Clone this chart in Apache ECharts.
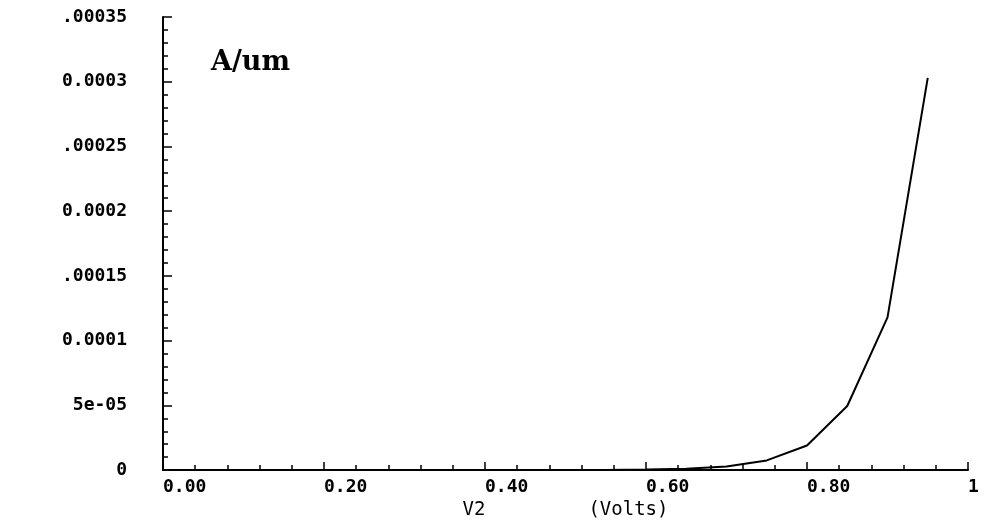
<!DOCTYPE html>
<html>
<head>
<meta charset="utf-8">
<script src="https://cdn.jsdelivr.net/npm/echarts@6/dist/echarts.min.js"></script>
<style>
  html, body { margin: 0; padding: 0; background: #fff; }
  #main { width: 990px; height: 525px; }
</style>
</head>
<body>
<div id="main"></div>
<script>
var voltage = [0.00, 0.05, 0.10, 0.15, 0.20, 0.25, 0.30, 0.35, 0.40, 0.45, 0.50, 0.55, 0.60, 0.65, 0.70, 0.75, 0.80, 0.85, 0.90, 0.95];
var current = [0, 0, 0, 0, 0, 0, 0, 0, 0, 0, 0, 0, 0.0000004, 0.000001, 0.0000028, 0.0000075, 0.0000190, 0.0000495, 0.0001180, 0.0003030];
var xTickLabels = ['0.00', '0.20', '0.40', '0.60', '0.80', '1'];
var yTickLabels = ['0', '5e-05', '0.0001', '.00015', '0.0002', '.00025', '0.0003', '.00035'];

var plotFont = '"DejaVu Sans Mono", monospace';

(function(){
  var myChart = echarts.init(document.getElementById('main'));
  var option = {
    backgroundColor: '#fff',
    animation: false,
    title: {
      text: 'A/um',
      left: 206,
      top: 44,
      textStyle: {
        color: '#000',
        fontFamily: '"DejaVu Serif", serif',
        fontWeight: 'bold',
        fontSize: 27
      }
    },
    grid: { left: 163, right: 22, top: 17, bottom: 54 },
    xAxis: {
      type: 'value',
      min: 0,
      max: 1,
      interval: 0.2,
      name: 'V2         (Volts)',
      nameLocation: 'middle',
      nameGap: 27,
      nameTextStyle: {
        color: '#000',
        fontFamily: plotFont,
        fontSize: 19
      },
      axisLine: { lineStyle: { color: '#000', width: 2 } },
      axisTick: { inside: true, length: 8, lineStyle: { color: '#000', width: 1.5 } },
      minorTick: { show: true, splitNumber: 5, length: 5, lineStyle: { color: '#000', width: 1.5 } },
      splitLine: { show: false },
      axisLabel: {
        color: '#000',
        fontFamily: plotFont,
        fontWeight: 'bold',
        fontSize: 18,
        margin: 8,
        align: 'left',
        formatter: function (v) {
          return xTickLabels[Math.round(v / 0.2)];
        }
      }
    },
    yAxis: {
      type: 'value',
      min: 0,
      max: 0.00035,
      interval: 0.00005,
      axisLine: { show: true, lineStyle: { color: '#000', width: 2 } },
      axisTick: { show: true, inside: true, length: 9, lineStyle: { color: '#000', width: 1.5 } },
      minorTick: { show: true, splitNumber: 5, length: 5, lineStyle: { color: '#000', width: 1.5 } },
      splitLine: { show: false },
      axisLabel: {
        color: '#000',
        fontFamily: plotFont,
        fontWeight: 'bold',
        fontSize: 18,
        margin: 36,
        formatter: function (v) {
          return yTickLabels[Math.round(v / 0.00005)];
        }
      }
    },
    series: [{
      type: 'line',
      data: voltage.map(function (v, i) { return [v, current[i]]; }),
      showSymbol: false,
      lineStyle: { color: '#000', width: 2 }
    }]
  };
  myChart.setOption(option);
  window.addEventListener('resize', function () {
    myChart.resize();
  });
})();
</script>
</body>
</html>
